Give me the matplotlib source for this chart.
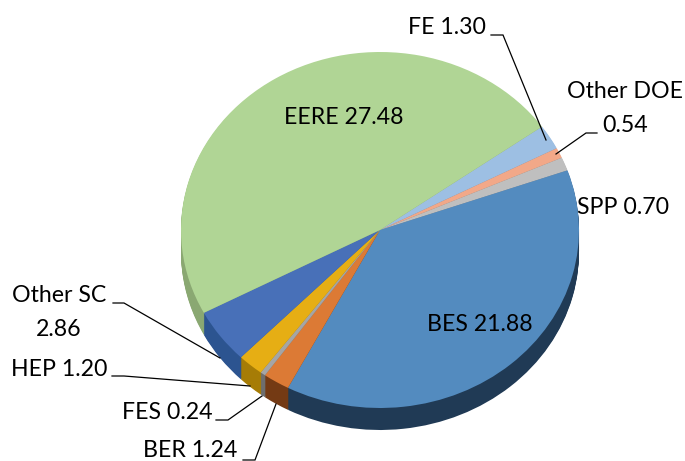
import numpy as np
import matplotlib
matplotlib.use("Agg")
import matplotlib.pyplot as plt

labels = ["FE", "Other DOE", "SPP", "BES", "BER", "FES", "HEP", "Other SC", "EERE"]
values = [1.30, 0.54, 0.70, 21.88, 1.24, 0.24, 1.20, 2.86, 27.48]
top_colors = ["#9dbfe3", "#f2a888", "#bfbfbf", "#538bbf", "#dc7a35", "#a5a5a5", "#e6ae14", "#4870b8", "#b0d595"]
side_colors = ["#6f8aa8", "#a8765f", "#868686", "#203a55", "#743a14", "#6e6e6e", "#a67c06", "#2c5490", "#8aa872"]

W, H = 685, 461
cx, cy = 380, 230
rx, ry = 199, 178
depth = 22

fig = plt.figure(figsize=(W / 100, H / 100), dpi=100)
plt.rcParams['font.family'] = ['Lato', 'DejaVu Sans']

# pie axes: one unit is rx pixels across and ry pixels down
ax = fig.add_axes([0, 0, 1, 1])
for d in range(depth, -1, -1):
    colors = top_colors if d == 0 else side_colors
    ax.pie(values, colors=colors, startangle=35.5, counterclock=False,
           center=(0, -d / ry), radius=1, frame=True,
           wedgeprops=dict(linewidth=0))
ax.set_aspect('auto')
ax.set_xlim(-cx / rx, (W - cx) / rx)
ax.set_ylim(-(H - cy) / ry, cy / ry)
ax.axis('off')

# overlay in pixel coordinates for the labels and leader lines
ov = fig.add_axes([0, 0, 1, 1])
ov.set_xlim(0, W)
ov.set_ylim(H, 0)
ov.axis('off')
ov.patch.set_alpha(0)

fs = 16.7
texts = [
    (344, 117, "EERE 27.48"),
    (447, 28, "FE 1.30"),
    (625, 92, "Other DOE"),
    (625, 125, "0.54"),
    (623, 207, "SPP 0.70"),
    (480, 324, "BES 21.88"),
    (59, 295, "Other SC"),
    (59, 329, "2.86"),
    (59, 369, "HEP 1.20"),
    (167, 412, "FES 0.24"),
    (190, 450, "BER 1.24"),
]
for x, y, s in texts:
    ov.text(x, y, s, fontsize=fs, ha='center', va='center', color='black')

leaders = [
    [(491, 35), (503, 35), (546, 140)],
    [(597, 133), (586, 133), (556, 154)],
    [(113, 303), (124, 303), (220, 358)],
    [(112, 376), (124, 376), (250, 386)],
    [(216, 420), (228, 420), (262, 396)],
    [(243, 460), (255, 460), (276, 404)],
]
for pts in leaders:
    xs, ys = zip(*pts)
    ov.plot(xs, ys, color='black', lw=0.9, solid_joinstyle='miter')

fig.savefig("out.png", dpi=100)
